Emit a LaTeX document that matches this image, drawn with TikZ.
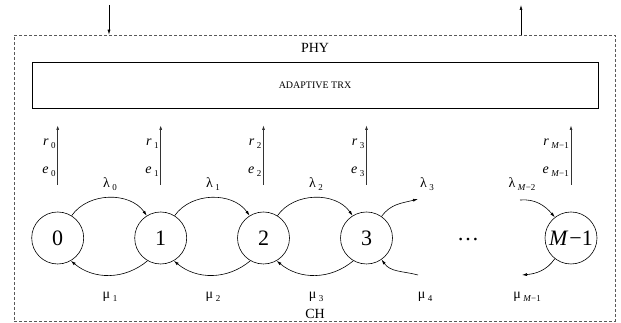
\documentclass[tikz,border=0pt]{standalone}
\usepackage{fontspec}
\setmainfont{Liberation Serif}
\usetikzlibrary{arrows.meta}
\newcommand{\sbx}[1]{\kern2.5pt\raisebox{-2.5pt}{\fontsize{9}{9}\selectfont #1}}
\begin{document}
\begin{tikzpicture}[x=1pt,y=1pt,
  st/.style={circle,draw,line width=0.6pt,minimum size=52pt,inner sep=0pt,font=\fontsize{22}{22}\selectfont},
  tr/.style={-{Latex[length=5pt,width=3pt]},line width=0.6pt},
  up/.style={-{Latex[length=5pt,width=3pt]},line width=0.9pt,draw=black!80},
  lbl/.style={inner sep=0pt,font=\fontsize{14}{14}\selectfont},
  big/.style={inner sep=0pt,font=\fontsize{14}{14}\selectfont}]
\useasboundingbox (0,0) rectangle (621,323);
% outer dashed box
\node[draw=black!65,line width=0.6pt,dash pattern=on 3pt off 2pt,minimum width=601pt,minimum height=286pt,inner sep=0pt] (phy) at (314.5,145) {};
\node[big,anchor=base] (phyl) at (315,270) {PHY};
\node[big,anchor=base] (ch) at (315,4) {CH};
% adaptive trx
\node[draw,line width=0.6pt,minimum width=566pt,minimum height=46pt,inner sep=0pt,font=\fontsize{10}{10}\selectfont] (trx) at (315,238) {ADAPTIVE TRX};
% top arrows
\coordinate (in) at (109,318);
\coordinate (out) at (521,318);
\draw[tr] (in) -- (in |- phy.north);
\draw[tr] (out |- phy.north) -- (out);
% states
\node[st] (c0) at (57.7,85) {0};
\node[st] (c1) at (160.7,85) {1};
\node[st] (c2) at (263.5,85) {2};
\node[st] (c3) at (366.5,85) {3};
\node[st] (c4) at (571,85) {\textit{M}\kern1pt−1};
\node[inner sep=0pt,font=\fontsize{22}{22}\selectfont,anchor=base] (dots) at (468,82) {…};
% r/e arrows
\foreach \i/\x in {0/57.7,1/160.7,2/263.5,3/366.5,4/571}{
  \coordinate (b\i) at (\x,138);
  \coordinate (t\i) at (\x,198);
  \draw[up] (b\i) -- (t\i);
}
\foreach \i/\x/\s in {0/57.7/0,1/160.7/1,2/263.5/2,3/366.5/3,4/571/\textit{M}−1}{
  \node[lbl,anchor=base east] (r\i) at (\x-2,177) {\textit{r}\sbx{\s}};
  \node[lbl,anchor=base east] (e\i) at (\x-2,149) {\textit{e}\sbx{\s}};
}
% transitions
\foreach \a/\b in {0/1,1/2,2/3}{
  \draw[tr] (c\a.58) to[out=55,in=125] (c\b.122);
  \draw[tr] (c\b.-120) to[out=-140,in=-40] (c\a.-60);
}
\coordinate (l3) at (418,124);
\coordinate (m4) at (418,48);
\coordinate (lm) at (520,123);
\coordinate (mm) at (522,48);
\draw[tr] (c3.55) to[out=55,in=195] (l3);
\draw[tr] (m4) to[out=165,in=-55] (c3.-55);
\draw[tr] (lm) to[out=5,in=130] (c4.128);
\draw[tr] (c4.-128) to[out=-125,in=5] (mm);
% lambda labels
\foreach \x/\s in {110/0,213/1,316/2,427/3,522/\textit{M}−2}{
  \node[lbl,anchor=base] at (\x,135) {λ\sbx{\s}};
}
\foreach \x/\s in {110/1,213/2,316/3,425/4,527/\textit{M}−1}{
  \node[lbl,anchor=base] at (\x,24) {μ\sbx{\s}};
}
\end{tikzpicture}
\end{document}
